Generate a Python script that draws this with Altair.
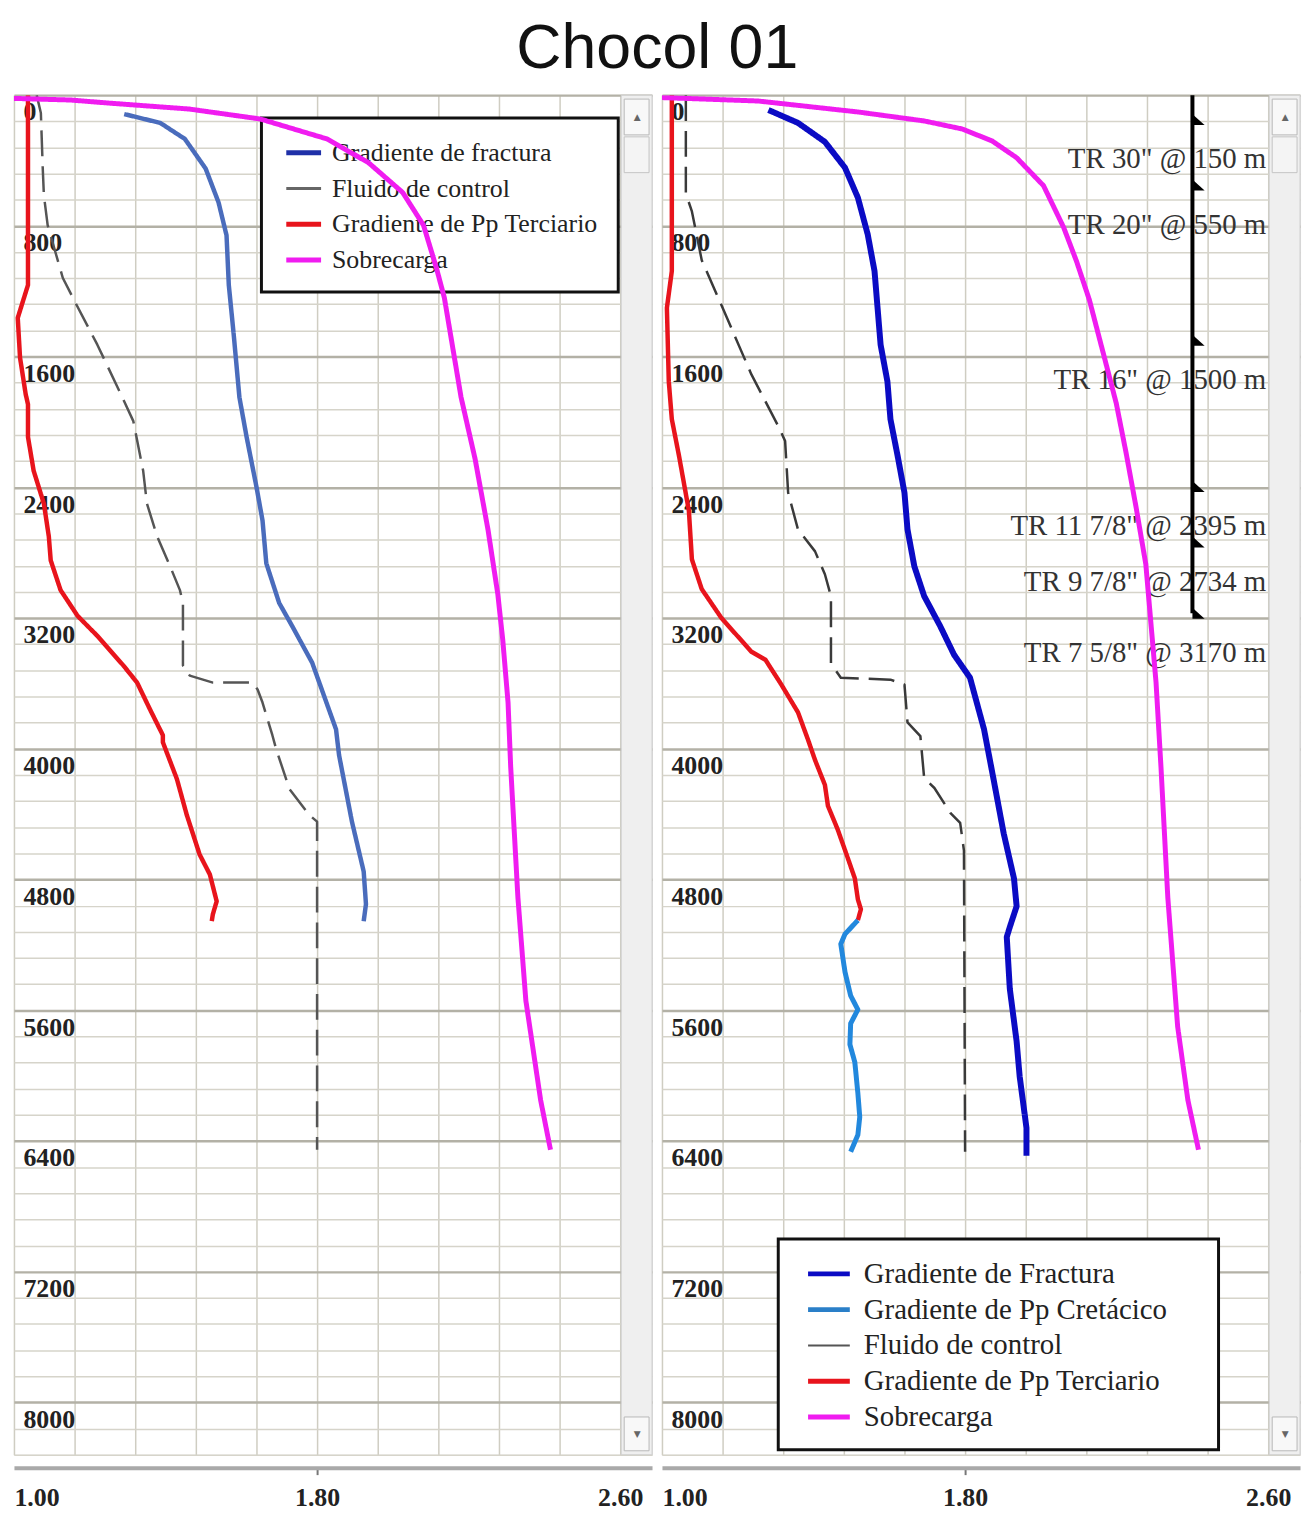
import altair as alt
import pandas as pd

SERIF = "Liberation Serif"
SANS = "Liberation Sans"

# ---------------- axis ticks ----------------
X_TICKS = [1.00, 1.16, 1.32, 1.48, 1.64, 1.80, 1.96, 2.12, 2.28, 2.44, 2.60]
Y_TICKS = list(range(0, 8321, 160))
X_DOMAIN = [1.0, 2.684]
D_DOMAIN = [0, 8320]

# ---------------- left panel data ----------------
L_names = ["Gradiente de fractura", "Fluido de control", "Gradiente de Pp Terciario", "Sobrecarga"]
L_colors = ["#4a6cbc", "#555555", "#e8141c", "#f01cf0"]
L_swatch = ["#1f30a8", "#666666", "#e8141c", "#f01cf0"]

L_fract_v = [1.291, 1.386, 1.451, 1.506, 1.540, 1.561, 1.567, 1.580, 1.595, 1.614, 1.640, 1.656, 1.666,
             1.700, 1.734, 1.787, 1.850, 1.858, 1.892, 1.923, 1.929, 1.923]
L_fract_d = [116, 170, 268, 450, 657, 858, 1162, 1466, 1849, 2092, 2397, 2603, 2865,
             3108, 3248, 3473, 3881, 4039, 4446, 4751, 4951, 5055]

L_fluid_v = [1.060, 1.071, 1.076, 1.079, 1.089, 1.129, 1.165, 1.220, 1.286, 1.315, 1.341, 1.351, 1.378,
             1.412, 1.438, 1.446, 1.446, 1.464, 1.525, 1.630, 1.643, 1.656, 1.682, 1.692, 1.727, 1.779,
             1.800, 1.800, 1.800]
L_fluid_d = [0, 109, 450, 614, 797, 1119, 1283, 1527, 1849, 1995, 2299, 2500, 2701,
             2883, 3029, 3108, 3491, 3552, 3595, 3595, 3637, 3717, 3917, 4002, 4246, 4404,
             4446, 4690, 6454]

L_terc_v = [1.037, 1.037, 1.010, 1.016, 1.031, 1.037, 1.037, 1.052, 1.079, 1.092, 1.097, 1.123, 1.168,
            1.220, 1.289, 1.325, 1.359, 1.393, 1.393, 1.430, 1.456, 1.490, 1.517, 1.535, 1.525, 1.522]
L_terc_d = [0, 1162, 1363, 1606, 1831, 1892, 2092, 2299, 2500, 2701, 2847, 3029, 3187,
            3309, 3491, 3595, 3759, 3917, 3960, 4185, 4404, 4647, 4769, 4933, 5012, 5055]

L_sob_v = [1.000, 1.150, 1.252, 1.462, 1.650, 1.826, 1.936, 2.026, 2.081, 2.115, 2.136, 2.180, 2.217, 2.251,
           2.277, 2.290, 2.304, 2.311, 2.330, 2.351, 2.390, 2.416]
L_sob_d = [20, 30, 49, 85, 146, 268, 414, 596, 797, 1058, 1241, 1849, 2226, 2658,
           3054, 3333, 3717, 4112, 4909, 5541, 6150, 6454]

# ---------------- right panel data ----------------
R_names = ["Gradiente de Fractura", "Gradiente de Pp Cretácico", "Fluido de control",
           "Gradiente de Pp Terciario", "Sobrecarga"]
R_colors = ["#0b0bc4", "#2288dd", "#3a3a3a", "#e8141c", "#f01cf0"]
R_swatch = ["#0b0bc4", "#2a7fc8", "#555555", "#e8141c", "#f01cf0"]

R_fract_v = [1.281, 1.359, 1.430, 1.483, 1.517, 1.543, 1.561, 1.569, 1.577, 1.595, 1.603, 1.622, 1.640,
             1.648, 1.666, 1.692, 1.734, 1.771, 1.813, 1.850, 1.876, 1.902, 1.929, 1.936, 1.918, 1.910,
             1.918, 1.936, 1.944, 1.962, 1.962]
R_fract_d = [91, 170, 286, 444, 627, 852, 1077, 1302, 1527, 1752, 1983, 2208, 2433,
             2658, 2883, 3066, 3248, 3425, 3565, 3881, 4197, 4519, 4793, 4964, 5091, 5152,
             5468, 5791, 6004, 6320, 6490]

R_cret_v = [1.517, 1.483, 1.472, 1.483, 1.498, 1.517, 1.498, 1.496, 1.509, 1.517, 1.522, 1.517, 1.498]
R_cret_d = [5049, 5134, 5195, 5365, 5511, 5596, 5681, 5809, 5918, 6107, 6253, 6363, 6466]

R_fluid_v = [1.063, 1.063, 1.079, 1.105, 1.168, 1.236, 1.307, 1.325, 1.333, 1.359, 1.404, 1.430, 1.446,
             1.446, 1.472, 1.603, 1.640, 1.648, 1.682, 1.692, 1.719, 1.761, 1.787, 1.797, 1.800]
R_fluid_d = [0, 602, 712, 1010, 1344, 1709, 2026, 2117, 2433, 2658, 2792, 2932, 3066,
             3479, 3565, 3577, 3607, 3838, 3923, 4179, 4240, 4392, 4453, 4623, 6466]

R_terc_v = [1.026, 1.026, 1.026, 1.013, 1.018, 1.026, 1.045, 1.071, 1.079, 1.105, 1.157, 1.236, 1.273,
            1.315, 1.359, 1.386, 1.404, 1.430, 1.438, 1.464, 1.490, 1.509, 1.517, 1.525, 1.517]
R_terc_d = [0, 852, 1077, 1302, 1752, 1983, 2208, 2543, 2841, 3023, 3200, 3406, 3455,
            3607, 3777, 3948, 4069, 4221, 4349, 4495, 4666, 4793, 4921, 4982, 5049]

R_sob_v = [1.000, 1.254, 1.517, 1.692, 1.792, 1.871, 1.936, 2.007, 2.060, 2.094, 2.128, 2.165, 2.199,
           2.225, 2.251, 2.277, 2.304, 2.317, 2.335, 2.361, 2.388, 2.416]
R_sob_d = [15, 36, 103, 158, 207, 280, 383, 554, 809, 1016, 1253, 1582, 1886,
           2190, 2518, 2871, 3595, 4112, 4909, 5700, 6150, 6454]

# casing program (right panel)
casing_x = 2.40
casing_top = 0
casing_depths = [150, 550, 1500, 2395, 2734, 3170]
casing_labels = ['TR 30" @ 150 m', 'TR 20" @ 550 m', 'TR 16" @ 1500 m',
                 'TR 11 7/8" @ 2395 m', 'TR 9 7/8" @ 2734 m', 'TR 7 5/8" @ 3170 m']

PW, PH = 642, 1368  # plot width incl. scrollbar strip, plot height


def build_df(series):
    rows = []
    for name, vs, ds, w in series:
        for i, (v, d) in enumerate(zip(vs, ds)):
            rows.append({"serie": name, "v": v, "d": d, "i": i, "w": w})
    return pd.DataFrame(rows)


x_enc = alt.X(
    "v:Q", title=None,
    scale=alt.Scale(domain=X_DOMAIN, nice=False, zero=False),
    axis=alt.Axis(
        values=X_TICKS, grid=True, gridColor="#cfcdc2", gridWidth=1.5,
        offset=13, domain=True, domainColor="#a9a9a9", domainWidth=4,
        labelExpr="(abs(datum.value-1)<0.001 || abs(datum.value-1.8)<0.001 || abs(datum.value-2.6)<0.001) ? format(datum.value, '.2f') : ''",
        labelFont=SERIF, labelFontSize=26, labelFontWeight="bold", labelColor="#222222",
        labelAlign={"condition": {"test": "datum.value < 1.01", "value": "left"}, "value": "center"},
        tickSize=7, tickColor="#777777", tickWidth=2,
        tickOpacity={"condition": {"test": "abs(datum.value - 1.8) < 0.01", "value": 1}, "value": 0},
        labelPadding=10, labelOverlap=False, labelFlush=False,
    ),
)

y_enc = alt.Y(
    "d:Q", title=None,
    scale=alt.Scale(domain=D_DOMAIN, reverse=True, nice=False, zero=False),
    axis=alt.Axis(
        values=Y_TICKS, grid=True,
        gridColor={"condition": {"test": "datum.value % 800 == 0", "value": "#b3b1a6"}, "value": "#d6d4ca"},
        gridWidth={"condition": {"test": "datum.value % 800 == 0", "value": 2.5}, "value": 1.5},
        domain=False, ticks=False, tickSize=0,
        labelExpr="datum.value % 800 == 0 ? format(datum.value, 'd') : ''",
        labelAlign="left", labelBaseline="top", labelPadding=-9, labelOffset=4,
        labelFont=SERIF, labelFontSize=26, labelFontWeight="bold", labelColor="#222222",
        labelOverlap=False,
    ),
)


def lines_layer(df, names, colors, dashes):
    return alt.Chart(df).mark_line(strokeJoin="round", clip=True).encode(
        x=x_enc, y=y_enc,
        color=alt.Color("serie:N", scale=alt.Scale(domain=names, range=colors), legend=None),
        strokeDash=alt.StrokeDash("serie:N", scale=alt.Scale(domain=names, range=dashes), legend=None),
        strokeWidth=alt.StrokeWidth("w:Q", scale=None),
        order=alt.Order("i:Q"),
    )


def legend_layers(names, swatch, sw_widths, box, sx0, sx1, tx, row0, row_h, fsize):
    bx0, bx1, by0, by1 = box
    ldf = pd.DataFrame({
        "name": names, "col": swatch, "sw": sw_widths,
        "py": [row0 + k * row_h for k in range(len(names))],
    })
    one_df = pd.DataFrame({"k": [0]})
    frame = alt.Chart(one_df).mark_rect(fill="white", stroke="#111111", strokeWidth=3).encode(
        x=alt.value(bx0), x2=alt.value(bx1), y=alt.value(by0), y2=alt.value(by1))
    sw = alt.Chart(ldf).mark_rule().encode(
        x=alt.value(sx0), x2=alt.value(sx1),
        y=alt.Y("py:Q", scale=None, axis=None),
        color=alt.Color("col:N", scale=None),
        strokeWidth=alt.StrokeWidth("sw:Q", scale=None))
    txt = alt.Chart(ldf).mark_text(align="left", baseline="middle", font=SERIF, fontSize=fsize,
                                   color="#222222").encode(
        x=alt.value(tx), y=alt.Y("py:Q", scale=None, axis=None), text="name:N")
    return [frame, sw, txt]


one = pd.DataFrame({"k": [0]})


def scrollbar():
    track = alt.Chart(one).mark_rect(fill="#efefef", stroke="#cfcfcf", strokeWidth=1).encode(
        x=alt.value(611), x2=alt.value(PW), y=alt.value(0), y2=alt.value(PH))
    up = alt.Chart(one).mark_rect(fill="#f8f8f8", stroke="#b8b8b8", strokeWidth=1).encode(
        x=alt.value(614), x2=alt.value(PW - 3), y=alt.value(4), y2=alt.value(40))
    thumb = alt.Chart(one).mark_rect(fill="#f4f4f4", stroke="#c4c4c4", strokeWidth=1).encode(
        x=alt.value(614), x2=alt.value(PW - 3), y=alt.value(42), y2=alt.value(78))
    down = alt.Chart(one).mark_rect(fill="#f8f8f8", stroke="#b8b8b8", strokeWidth=1).encode(
        x=alt.value(614), x2=alt.value(PW - 3), y=alt.value(PH - 38), y2=alt.value(PH - 4))
    a_up = alt.Chart(one).mark_text(text="▲", fontSize=9, color="#666666", font="DejaVu Sans").encode(
        x=alt.value(627), y=alt.value(22))
    a_dn = alt.Chart(one).mark_text(text="▼", fontSize=9, color="#666666", font="DejaVu Sans").encode(
        x=alt.value(627), y=alt.value(PH - 21))
    return [track, up, thumb, down, a_up, a_dn]


# ---------- left panel ----------
df_left = build_df([
    ("Fluido de control", L_fluid_v, L_fluid_d, 2.5),
    ("Gradiente de Pp Terciario", L_terc_v, L_terc_d, 4.5),
    ("Gradiente de fractura", L_fract_v, L_fract_d, 4.5),
    ("Sobrecarga", L_sob_v, L_sob_d, 5),
])
left_lines = lines_layer(df_left, L_names, L_colors, [[1, 0], [26, 10], [1, 0], [1, 0]])
left_legend = legend_layers(L_names, L_swatch, [5, 3, 5, 5], (249, 608, 23, 198),
                            274, 309, 320, 58, 36, 26)
left = alt.layer(*left_legend, left_lines, *scrollbar()).properties(width=PW, height=PH)

# ---------- right panel ----------
df_right = build_df([
    ("Fluido de control", R_fluid_v, R_fluid_d, 2.5),
    ("Gradiente de Pp Terciario", R_terc_v, R_terc_d, 4.5),
    ("Gradiente de Pp Cretácico", R_cret_v, R_cret_d, 5),
    ("Gradiente de Fractura", R_fract_v, R_fract_d, 6),
    ("Sobrecarga", R_sob_v, R_sob_d, 5),
])
casing_df = pd.DataFrame({"v": [casing_x] * len(casing_depths), "d": casing_depths, "label": casing_labels})
casing_line_df = pd.DataFrame({"v": [casing_x], "d": [casing_top], "d2": [casing_depths[-1]]})

casing_text = alt.Chart(casing_df).mark_text(
    align="right", baseline="middle", dy=40, font=SERIF, fontSize=29, color="#333333"
).encode(x=alt.value(608), y=y_enc, text="label:N")

right_lines = lines_layer(df_right, R_names, R_colors, [[1, 0], [1, 0], [26, 10], [1, 0], [1, 0]])
right_legend = legend_layers(R_names, R_swatch, [5, 5, 2, 5, 5], (117, 560, 1151, 1363),
                             147, 189, 203, 1186, 36, 29)

casing_rule = alt.Chart(casing_line_df).mark_rule(color="#000000", strokeWidth=4).encode(
    x=x_enc, y=y_enc, y2="d2:Q")
casing_shoes = alt.Chart(casing_df).mark_point(
    shape="M0,-0.45L1,0.45L0,0.45Z", filled=True, fill="#000000", opacity=1, size=600, strokeWidth=0
).encode(x=x_enc, y=y_enc)

right = alt.layer(*right_legend, casing_text, right_lines, casing_rule, casing_shoes,
                  *scrollbar()).properties(width=PW, height=PH)

chart = alt.hconcat(left, right, spacing=8).resolve_scale(
    color="independent", strokeDash="independent"
).properties(
    title=alt.TitleParams(text="Chocol 01", font=SANS, fontSize=63, fontWeight="normal",
                          color="#111111", anchor="middle", offset=12)
).configure_view(
    fill="#fdfbf0", stroke="#8a8a8a", strokeWidth=2
).configure(background="white")

chart.save("out.html", embed_options={"renderer": "svg", "actions": False})
